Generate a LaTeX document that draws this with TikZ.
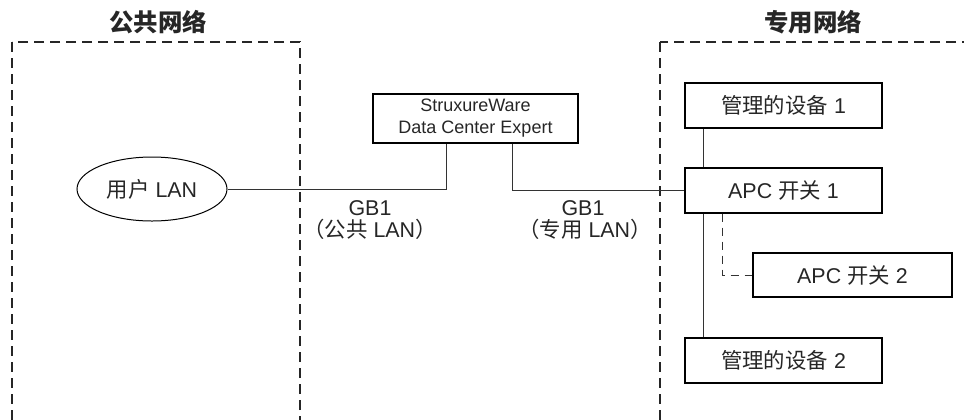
\documentclass[tikz,border=0pt]{standalone}
\usepackage{fontspec}
\setmainfont{Liberation Sans}
\newfontfamily\cjk{Noto Sans CJK SC}
\usetikzlibrary{shapes.geometric}

\begin{document}
\begin{tikzpicture}[x=0.5pt, y=-0.5pt, font=\fontsize{10.7}{12.5}\selectfont, text=black!85,
  netbox/.style={line width=0.9pt, dash pattern=on 5pt off 3pt, color=black!85},
  devbox/.style={draw, line width=1pt, minimum width=98.5pt, minimum height=22.5pt, inner sep=0pt},
  link/.style={line width=0.5pt, color=black!80}]
\clip (0,0) rectangle (964,419);
% network areas
\draw[netbox] (12,42) rectangle (300,450);
\draw[netbox] (660,42) rectangle (1000,450);
\node (pubtitle) at (158,22) {\fontsize{12.2}{14}\selectfont\cjk\bfseries 公共网络};
\node (privtitle) at (813,22) {\fontsize{12.2}{14}\selectfont\cjk\bfseries 专用网络};
% nodes
\node (user)[draw, ellipse, line width=0.5pt, minimum width=75pt, minimum height=32pt, inner sep=0pt] at (152,189) {{\cjk 用户} LAN};
\node (dce)[devbox, minimum width=102.5pt, minimum height=24.5pt, align=center, font=\fontsize{9}{11}\selectfont] at (475.5,118.5) {StruxureWare\\Data Center Expert};
\node (dev1)[devbox] at (783.5,105.5) {{\cjk 管理的设备} 1};
\node (sw1)[devbox] at (783.5,190) {APC {\cjk 开关} 1};
\node (sw2)[devbox, minimum width=99.5pt, minimum height=22pt] at (852.5,275) {APC {\cjk 开关} 2};
\node (dev2)[devbox] at (783.5,360) {{\cjk 管理的设备} 2};
% labels
\node (gbpub) at (370,208) {GB1};
\node (lanpub) at (370,229) {{\cjk （公共} LAN{\cjk ）}};
\node (gbpriv) at (583,208) {GB1};
\node (lanpriv) at (585,229) {{\cjk （专用} LAN{\cjk ）}};
% links
\draw[link] (user.east) -| ([xshift=-14.75pt]dce.south);
\draw[link] ([xshift=18.25pt]dce.south) |- (sw1.west);
\draw[link] ([xshift=-40.25pt]dev1.south) -- ([xshift=-40.25pt]sw1.north);
\draw[link] ([xshift=-40.25pt]sw1.south) -- ([xshift=-40.25pt]dev2.north);
\draw[link, dash pattern=on 4pt off 3pt] ([xshift=-30.75pt]sw1.south) |- (sw2.west);
\end{tikzpicture}
\end{document}
